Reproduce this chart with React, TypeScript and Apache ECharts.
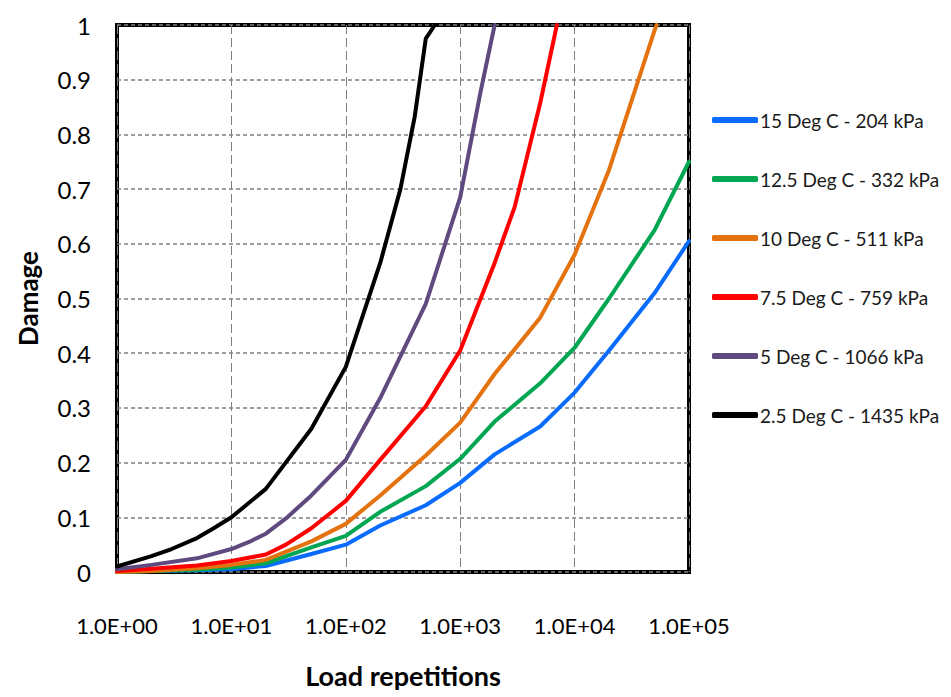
import React, { useEffect, useRef } from "react";
import * as echarts from "echarts";

const seriesNames = [
  "15 Deg C - 204 kPa",
  "12.5 Deg C - 332 kPa",
  "10 Deg C - 511 kPa",
  "7.5 Deg C - 759 kPa",
  "5 Deg C - 1066 kPa",
  "2.5 Deg C - 1435 kPa",
];
const seriesColors = ["#0A6CFF", "#00A651", "#E4730F", "#FF0000", "#5F4A80", "#000000"];

const reps15 = [1, 2, 5, 10, 20, 50, 100, 200, 500, 1000, 2000, 5000, 10000, 20000, 50000, 100000];
const dmg15 = [0, 0.002, 0.003, 0.005, 0.011, 0.033, 0.05, 0.085, 0.122, 0.163, 0.215, 0.266, 0.328, 0.405, 0.51, 0.605];

const reps125 = [1, 2, 5, 10, 20, 50, 100, 200, 500, 1000, 2000, 5000, 10000, 20000, 50000, 100000];
const dmg125 = [0, 0.002, 0.004, 0.008, 0.016, 0.045, 0.066, 0.11, 0.157, 0.207, 0.275, 0.345, 0.41, 0.5, 0.625, 0.75];

const reps10 = [1, 2, 5, 10, 20, 50, 100, 200, 500, 1000, 2000, 5000, 10000, 20000, 50000, 52000];
const dmg10 = [0, 0.002, 0.007, 0.013, 0.022, 0.056, 0.088, 0.14, 0.213, 0.273, 0.362, 0.465, 0.58, 0.735, 0.99, 1.0];

const reps75 = [1, 2, 5, 10, 20, 30, 50, 100, 200, 500, 1000, 2000, 3000, 5000, 7000];
const dmg75 = [0.002, 0.006, 0.012, 0.02, 0.032, 0.05, 0.08, 0.13, 0.205, 0.303, 0.405, 0.565, 0.668, 0.857, 1.0];

const reps5 = [1, 2, 5, 10, 15, 20, 30, 50, 100, 200, 300, 500, 1000, 1500, 2000];
const dmg5 = [0.005, 0.013, 0.025, 0.042, 0.057, 0.07, 0.098, 0.14, 0.205, 0.318, 0.394, 0.49, 0.685, 0.876, 1.0];

const reps25 = [1, 2, 3, 5, 7, 10, 20, 50, 100, 200, 300, 400, 500, 600];
const dmg25 = [0.01, 0.029, 0.042, 0.062, 0.08, 0.1, 0.152, 0.262, 0.375, 0.565, 0.7, 0.832, 0.975, 1.0];

const allReps = [reps15, reps125, reps10, reps75, reps5, reps25];
const allDmg = [dmg15, dmg125, dmg10, dmg75, dmg5, dmg25];

const FONT = "Lato, 'Open Sans', sans-serif";

export default function App() {
  const ref = useRef<HTMLDivElement>(null);
  useEffect(() => {
    if (!ref.current) return;
    const chart = echarts.init(ref.current, undefined, { renderer: "svg" });
    const series = seriesNames.map((name, i) => ({
      name,
      type: "line",
      data: allReps[i].map((r, j) => [r, allDmg[i][j]]),
      showSymbol: false,
      symbol: "none",
      lineStyle: { color: seriesColors[i], width: 4, join: "round", cap: "round" },
      itemStyle: { color: seriesColors[i] },
      z: 3 + i,
    }));
    chart.setOption({
      animation: false,
      backgroundColor: "#ffffff",
      textStyle: { fontFamily: FONT },
      grid: {
        left: 117,
        top: 25,
        right: 262,
        bottom: 125,
        show: true,
        borderColor: "#000",
        borderWidth: 4,
      },
      legend: {
        orient: "vertical",
        left: 707,
        top: 103,
        itemWidth: 46,
        itemHeight: 6,
        itemGap: 35,
        icon: "roundRect",
        textStyle: { fontFamily: FONT, fontSize: 19, color: "#1a1a1a", lineHeight: 24, padding: [0, 0, 0, -3] },
        data: seriesNames,
      },
      xAxis: {
        type: "log",
        logBase: 10,
        min: 1,
        max: 100000,
        name: "Load repetitions",
        nameLocation: "middle",
        nameGap: 90,
        nameTextStyle: { fontFamily: FONT, fontSize: 27, fontWeight: "bold", color: "#000" },
        axisLine: { show: false },
        axisTick: { show: false },
        axisLabel: {
          margin: 42,
          fontSize: 22,
          color: "#000",
          fontFamily: FONT,
          formatter: (v: number) => {
            const e = Math.round(Math.log10(v));
            return "1.0E+" + (e < 10 ? "0" + e : String(e));
          },
        },
        splitLine: { show: true, lineStyle: { color: "#7f7f7f", width: 1, type: [9, 4] } },
      },
      yAxis: {
        type: "value",
        min: 0,
        max: 1,
        interval: 0.1,
        name: "Damage",
        nameLocation: "middle",
        nameGap: 76,
        nameTextStyle: { fontFamily: FONT, fontSize: 26, fontWeight: "bold", color: "#000" },
        axisLine: { show: false },
        axisTick: { show: false },
        axisLabel: {
          margin: 26,
          fontSize: 24,
          color: "#000",
          fontFamily: FONT,
          formatter: (v: number) => (v === 0 ? "0" : v === 1 ? "1" : v.toFixed(1)),
        },
        splitLine: { show: true, lineStyle: { color: "#7f7f7f", width: 1.5, type: [4, 3] } },
      },
      series,
    });
    return () => chart.dispose();
  }, []);
  return <div ref={ref} style={{ width: 951, height: 697, position: "absolute", left: 0, top: 0 }} />;
}
